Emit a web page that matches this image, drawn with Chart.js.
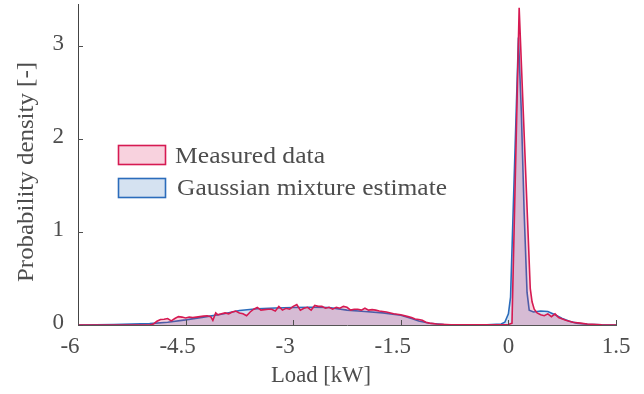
<!DOCTYPE html>
<html>
<head>
<meta charset="utf-8">
<script src="https://cdn.jsdelivr.net/npm/chart.js@4/dist/chart.umd.min.js"></script>
<style>
html,body{margin:0;padding:0;background:#fff;}
canvas{display:block;}
</style>
</head>
<body>
<canvas id="c" width="644" height="394"></canvas>
<script>
// ---- data (kW, probability density) ----
const measuredX = [-6.0,-5.5,-5.0,-4.95,-4.9,-4.85,-4.8,-4.75,-4.7,-4.65,-4.6,-4.55,-4.5,-4.45,-4.4,-4.35,-4.3,-4.25,-4.2,-4.15,-4.12,-4.08,-4.05,-4.0,-3.95,-3.9,-3.85,-3.8,-3.75,-3.7,-3.65,-3.6,-3.55,-3.5,-3.45,-3.4,-3.35,-3.3,-3.25,-3.2,-3.15,-3.1,-3.05,-3.0,-2.95,-2.9,-2.85,-2.8,-2.75,-2.7,-2.65,-2.6,-2.55,-2.5,-2.45,-2.4,-2.35,-2.3,-2.25,-2.2,-2.15,-2.1,-2.05,-2.0,-1.95,-1.9,-1.85,-1.8,-1.7,-1.6,-1.5,-1.4,-1.35,-1.3,-1.25,-1.2,-1.15,-1.1,-1.0,-0.8,-0.5,-0.2,0.0,0.05,0.15,0.305,0.33,0.36,0.4,0.45,0.5,0.55,0.6,0.65,0.7,0.8,0.9,1.0,1.1,1.3,1.5];
const measuredY = [0.0,0.0,0.0,0.01,0.04,0.06,0.062,0.07,0.045,0.07,0.09,0.085,0.075,0.085,0.08,0.085,0.09,0.095,0.1,0.09,0.05,0.13,0.11,0.12,0.13,0.12,0.14,0.15,0.13,0.12,0.1,0.14,0.17,0.19,0.16,0.165,0.17,0.17,0.15,0.2,0.16,0.18,0.17,0.2,0.22,0.16,0.18,0.19,0.16,0.21,0.2,0.2,0.18,0.19,0.17,0.19,0.18,0.2,0.19,0.16,0.17,0.17,0.16,0.18,0.16,0.165,0.16,0.15,0.14,0.12,0.11,0.09,0.08,0.065,0.06,0.05,0.03,0.02,0.01,0.003,0.002,0.002,0.005,0.02,3.41,0.39,0.25,0.17,0.13,0.11,0.1,0.12,0.09,0.12,0.08,0.05,0.03,0.02,0.01,0.003,0.0];
const gmmX = [-6.0,-5.5,-5.0,-4.75,-4.5,-4.25,-4.0,-3.75,-3.5,-3.25,-3.0,-2.75,-2.5,-2.25,-2.0,-1.75,-1.5,-1.35,-1.25,-1.1,-0.9,-0.6,-0.3,-0.1,-0.05,0.0,0.03,0.14,0.18,0.22,0.26,0.29,0.35,0.45,0.55,0.65,0.75,0.85,0.95,1.1,1.3,1.5];
const gmmY = [0.0,0.005,0.015,0.03,0.055,0.085,0.115,0.155,0.175,0.183,0.188,0.19,0.188,0.16,0.145,0.13,0.105,0.07,0.042,0.018,0.006,0.002,0.003,0.01,0.03,0.12,0.3,3.09,2.3,1.2,0.35,0.16,0.14,0.15,0.145,0.11,0.07,0.04,0.02,0.008,0.002,0.0];
const xTicks = [-6,-4.5,-3,-1.5,0,1.5];
const yTicks = [0,1,2,3];
const seriesNames = ['Measured data','Gaussian mixture estimate'];
const xTitle = 'Load [kW]';
const yTitle = 'Probability density [-]';

const RED = '#d61a52', BLUE = '#2b6cbb';
const RED_FILL = 'rgba(220,30,90,0.2)', BLUE_FILL = 'rgba(40,110,190,0.2)';
const TXT = '#4d4d4d';
const FONT = '"Liberation Serif", "Times New Roman", serif';

function pts(xs, ys){ return xs.map((x,i)=>({x:x, y:ys[i]})); }

function drawText(ctx, s, x, y, size, targetW, align, baseline, rot){
  ctx.save();
  ctx.font = size + 'px ' + FONT;
  ctx.fillStyle = TXT;
  const w = ctx.measureText(s).width;
  const sx = targetW ? targetW / w : 1;
  ctx.translate(x, y);
  if (rot) ctx.rotate(rot);
  ctx.scale(sx, 1);
  ctx.textAlign = align; ctx.textBaseline = baseline;
  ctx.fillText(s, 0, 0);
  ctx.restore();
}

const decor = {
  id: 'decor',
  afterDraw(chart){
    const ctx = chart.ctx, xs = chart.scales.x, ys = chart.scales.y, a = chart.chartArea;
    ctx.save();
    ctx.strokeStyle = '#505050'; ctx.lineWidth = 1;
    yTicks.forEach(v=>{ const y = Math.round(ys.getPixelForValue(v))+0.5;
      ctx.beginPath(); ctx.moveTo(a.left, y); ctx.lineTo(a.left+5, y); ctx.stroke(); });
    xTicks.forEach(v=>{ const x = Math.round(xs.getPixelForValue(v))+0.5;
      ctx.beginPath(); ctx.moveTo(x, a.bottom); ctx.lineTo(x, a.bottom-5); ctx.stroke(); });
    ctx.restore();
    yTicks.forEach(v=>{ drawText(ctx, String(v), 64, ys.getPixelForValue(v)-2, 23, 0, 'right', 'middle'); });
    xTicks.forEach(v=>{ const off = v < 0 ? -8 : 0;
      drawText(ctx, String(v), xs.getPixelForValue(v)+off, 353, 23, 0, 'center', 'alphabetic'); });
    drawText(ctx, xTitle, 321, 382, 23, 100, 'center', 'alphabetic');
    drawText(ctx, yTitle, 33, 172, 23, 220, 'center', 'alphabetic', -Math.PI/2);
    ctx.save();
    ctx.lineWidth = 1.6;
    ctx.fillStyle = '#f8d2de'; ctx.strokeStyle = RED;
    ctx.fillRect(118.5,145.5,47,19); ctx.strokeRect(118.5,145.5,47,19);
    ctx.fillStyle = '#d5e2f1'; ctx.strokeStyle = BLUE;
    ctx.fillRect(118.5,178.5,47,19); ctx.strokeRect(118.5,178.5,47,19);
    ctx.restore();
    drawText(ctx, seriesNames[0], 175, 163, 23, 150, 'left', 'alphabetic');
    drawText(ctx, seriesNames[1], 177, 195, 23, 270, 'left', 'alphabetic');
  }
};

function build(){
  new Chart(document.getElementById('c'), {
    type: 'line',
    data: {
      datasets: [
        { label: seriesNames[0], data: pts(measuredX, measuredY), borderColor: RED, backgroundColor: RED_FILL,
          borderWidth: 1.6, fill: 'origin', pointRadius: 0, tension: 0, order: 0 },
        { label: seriesNames[1], data: pts(gmmX, gmmY), borderColor: BLUE, backgroundColor: BLUE_FILL,
          borderWidth: 1.6, fill: 'origin', pointRadius: 0, tension: 0, order: 1 }
      ]
    },
    options: {
      responsive: false, animation: false, devicePixelRatio: 1,
      layout: { padding: { left: 0, right: 28, top: 4, bottom: 0 } },
      plugins: { legend: { display: false }, tooltip: { enabled: false } },
      scales: {
        x: { type: 'linear', min: -6, max: 1.5,
             ticks: { display: false, stepSize: 1.5 },
             grid: { display: false },
             border: { display: true, color: '#555', width: 1 },
             afterFit(s){ s.height = 69; } },
        y: { type: 'linear', min: 0, max: 3.45,
             ticks: { display: false, stepSize: 1 },
             grid: { display: false },
             border: { display: true, color: '#444', width: 1 },
             afterFit(s){ s.width = 78; } }
      }
    },
    plugins: [decor]
  });
}
if (document.fonts && document.fonts.load) {
  document.fonts.load('23px "Liberation Serif"').then(build, build);
} else { build(); }
</script>
</body>
</html>
